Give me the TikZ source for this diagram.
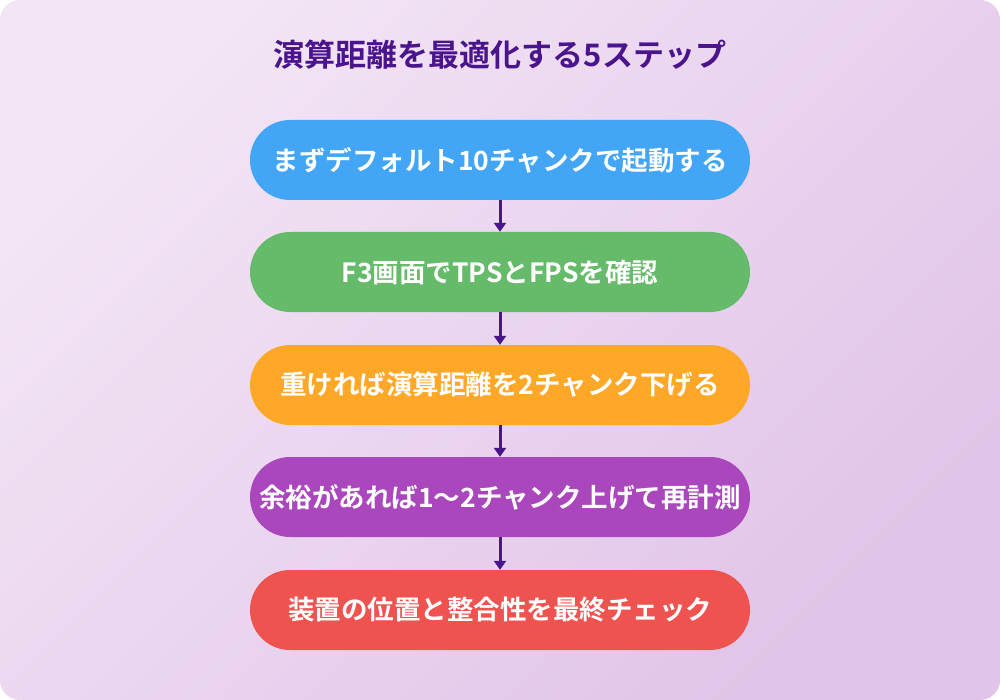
\documentclass[tikz,border=0pt]{standalone}
\usepackage{fontspec}
\setmainfont{Noto Sans CJK JP}[BoldFont={* Bold}]
\usetikzlibrary{arrows.meta}
\begin{document}
\begin{tikzpicture}[x=1pt,y=-1pt,
  stepbox/.style={rounded corners=40pt,minimum width=500pt,minimum height=80pt,text=white,font=\bfseries\fontsize{26.5}{30}\selectfont,inner sep=0pt},
  conn/.style={draw=arrowc,line width=3pt,-{Triangle[length=9pt,width=12pt]}}]
\definecolor{arrowc}{HTML}{4A148C}
\definecolor{bgA}{HTML}{F3E5F5}
\definecolor{bgB}{HTML}{E1C4E9}
\useasboundingbox (0,0) rectangle (1000,700);
\shade[rounded corners=20pt,top color=bgA,bottom color=bgB,shading angle=45] (0,0) rectangle (1000,700);
\node[text=arrowc,font=\bfseries\fontsize{31}{36}\selectfont] (title) at (500,55) {演算距離を最適化する5ステップ};
\node[stepbox,fill={rgb,255:red,66;green,165;blue,245}] (s1) at (500,160) {まずデフォルト10チャンクで起動する};
\node[stepbox,fill={rgb,255:red,102;green,187;blue,106}] (s2) at (500,272) {F3画面でTPSとFPSを確認};
\node[stepbox,fill={rgb,255:red,255;green,167;blue,38}] (s3) at (500,385) {重ければ演算距離を2チャンク下げる};
\node[stepbox,fill={rgb,255:red,171;green,71;blue,188}] (s4) at (500,497) {余裕があれば1〜2チャンク上げて再計測};
\node[stepbox,fill={rgb,255:red,239;green,83;blue,80}] (s5) at (500,610) {装置の位置と整合性を最終チェック};
\draw[conn] (s1) -- (s2);
\draw[conn] (s2) -- (s3);
\draw[conn] (s3) -- (s4);
\draw[conn] (s4) -- (s5);
\end{tikzpicture}
\end{document}
